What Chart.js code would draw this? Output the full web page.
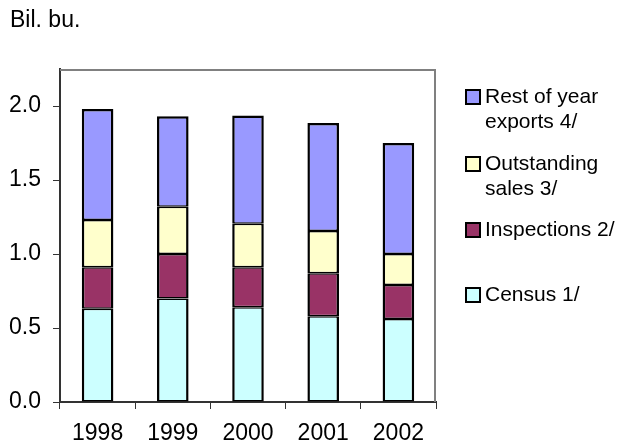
<!DOCTYPE html>
<html>
<head>
<meta charset="utf-8">
<script src="https://cdn.jsdelivr.net/npm/chart.js@4.4.1/dist/chart.umd.min.js"></script>
<style>
    body { margin: 0; background: #fff; }
    #wrap { width: 618px; height: 445px; }
</style>
</head>
<body>
<div id="wrap"><canvas id="myChart" width="618" height="445"></canvas></div>
<script>
// 年份
var years = ['1998', '1999', '2000', '2001', '2002'];
// 各部分 (Bil. bu.)
var census = [0.63, 0.70, 0.64, 0.58, 0.56];
var inspections = [0.28, 0.30, 0.27, 0.29, 0.23];
var outstanding = [0.32, 0.32, 0.295, 0.285, 0.21];
var restOfYear = [0.75, 0.61, 0.73, 0.73, 0.75];
// 纵轴刻度
var yTicks = [0, 0.5, 1.0, 1.5, 2.0];

var fontFamily = "'Liberation Sans', Arial, sans-serif";

/**
 * 标题 + 右侧图例 + 绘图区边框
 */
var extrasPlugin = {
    id: 'extras',
    afterDraw: function (chart) {
        var ctx = chart.ctx,
            area = chart.chartArea;

        ctx.save();
        // 上、右边框 灰色
        ctx.strokeStyle = '#808080';
        ctx.lineWidth = 2;
        ctx.beginPath();
        ctx.moveTo(area.left, area.top + 1);
        ctx.lineTo(area.right - 1, area.top + 1);
        ctx.lineTo(area.right - 1, area.bottom);
        ctx.stroke();

        // 标题
        ctx.fillStyle = '#000';
        ctx.font = '23px ' + fontFamily;
        ctx.textBaseline = 'middle';
        ctx.textAlign = 'left';
        ctx.fillText('Bil. bu.', 10, 21);

        // 图例 (倒序，上面是最上层)
        ctx.font = '21px ' + fontFamily;
        var items = chart.data.datasets.slice().reverse(),
            x = area.right + 30,
            ys = [97, 164, 230, 295];
        for (var i = 0; i < items.length; i++) {
            var ds = items[i],
                lines = ds.legendLines,
                y = ys[i];
            ctx.fillStyle = ds.backgroundColor;
            ctx.fillRect(x, y - 7, 14, 14);
            ctx.strokeStyle = '#000';
            ctx.lineWidth = 2;
            ctx.strokeRect(x, y - 7, 14, 14);
            ctx.fillStyle = '#000';
            for (var j = 0; j < lines.length; j++) {
                ctx.fillText(lines[j], x + 19, y + j * 25);
            }
        }
        ctx.restore();
    }
};

/**
 * 堆叠柱：上下边各一半（相邻两段合起来 3px），左右 2.5px
 */
function makeDataset(label, lines, data, color, topWidth) {
    return {
        label: label,
        legendLines: lines,
        data: data,
        backgroundColor: color,
        borderColor: '#000',
        borderWidth: {top: topWidth, bottom: 1.5, left: 2.5, right: 2.5},
        borderSkipped: false,
        inflateAmount: 0,
        categoryPercentage: 1.0,
        barPercentage: 0.42
    };
}

var chart = new Chart(document.getElementById('myChart').getContext('2d'), {
    type: 'bar',
    data: {
        labels: years,
        datasets: [
            makeDataset('Census 1/', ['Census 1/'], census, '#CCFFFF', 1.5),
            makeDataset('Inspections 2/', ['Inspections 2/'], inspections, '#993366', 1.5),
            makeDataset('Outstanding sales 3/', ['Outstanding', 'sales 3/'], outstanding, '#FFFFCC', 1.5),
            makeDataset('Rest of year exports 4/', ['Rest of year', 'exports 4/'], restOfYear, '#9999FF', 2.5)
        ]
    },
    options: {
        responsive: false,
        animation: false,
        layout: {padding: {left: 0, right: 182, top: 69, bottom: 0}},
        plugins: {
            legend: {display: false},
            title: {display: false},
            tooltip: {enabled: false}
        },
        scales: {
            x: {
                stacked: true,
                grid: {
                    offset: true,
                    drawOnChartArea: false,
                    drawTicks: true,
                    tickLength: 7,
                    color: '#333'
                },
                border: {color: '#333', width: 2},
                ticks: {
                    color: '#000',
                    font: {family: fontFamily, size: 23},
                    padding: 11
                },
                afterFit: function (scale) {
                    scale.height = 43;
                }
            },
            y: {
                stacked: true,
                min: 0,
                max: 2.25,
                grid: {
                    drawOnChartArea: false,
                    drawTicks: true,
                    tickLength: 7,
                    color: '#333'
                },
                border: {color: '#333', width: 2},
                afterBuildTicks: function (scale) {
                    scale.ticks = yTicks.map(function (v) { return {value: v}; });
                },
                ticks: {
                    color: '#000',
                    font: {family: fontFamily, size: 23},
                    padding: 12,
                    callback: function (v) { return Number(v).toFixed(1); }
                },
                afterFit: function (scale) {
                    scale.width = 60;
                }
            }
        }
    },
    plugins: [extrasPlugin]
});
</script>
</body>
</html>
